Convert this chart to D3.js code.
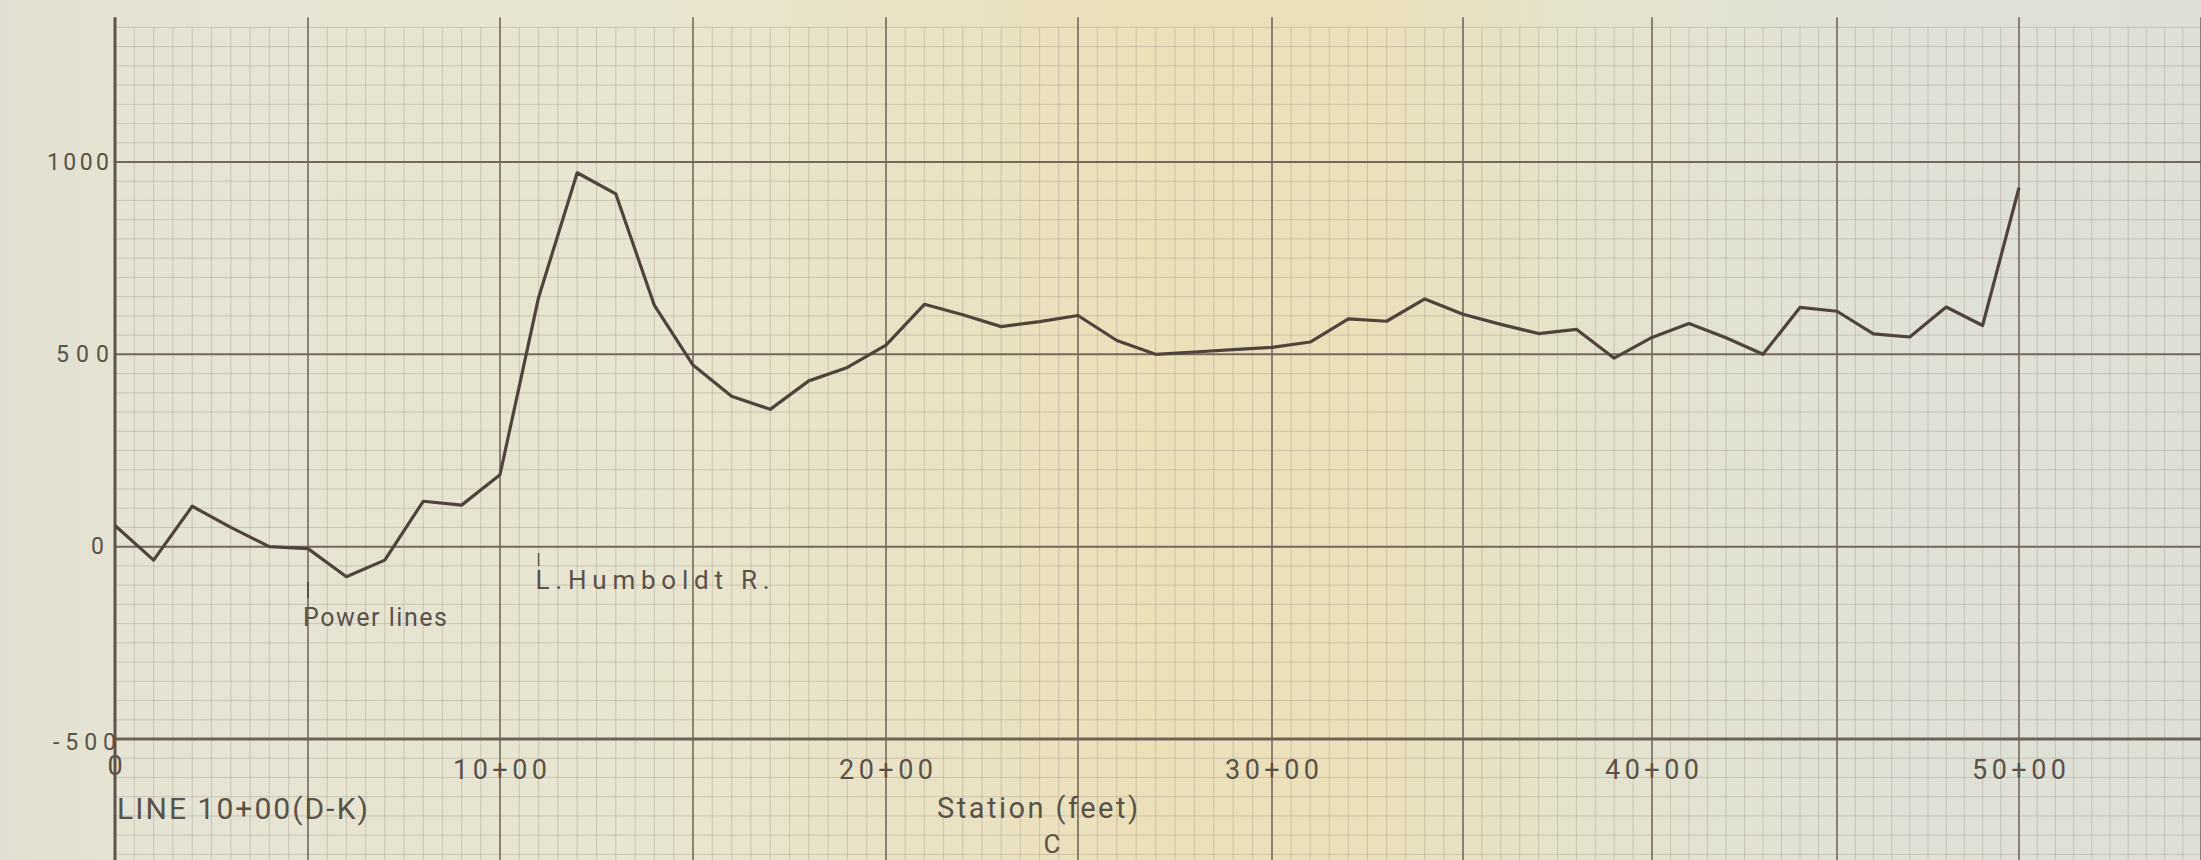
<!DOCTYPE html>
<html>
<head>
<meta charset="utf-8">
<script src="https://cdn.jsdelivr.net/npm/d3@7"></script>
<style>
html,body{margin:0;padding:0;background:#e6e4d2;}
svg{display:block;}
text{font-family:"Roboto","DejaVu Sans",sans-serif;font-weight:400;fill:#5a5149;}
</style>
</head>
<body>
<svg id="chart" width="2201" height="860"></svg>
<script>
// ---- data ----
const stations = [0,1,2,3,4,5,6,7,8,9,10,11,12,13,14,15,16,17,18,19,20,21,22,23,24,25,26,27,28,29,30,31,32,33,34,35,36,37,38,39,40,41,42,43,44,45,46,47,48,49,50];
const values   = [55,-35,105,50,0,-5,-78,-35,118,108,187,648,972,917,627,472,391,357,431,466,524,630,603,572,585,601,536,500,506,512,518,532,592,586,644,604,578,554,565,490,544,580,543,500,622,612,553,545,623,575,933];
const xTickValues = [0,10,20,30,40,50];
const xTickLabels = ["0","10+00","20+00","30+00","40+00","50+00"];
const yTickValues = [1000,500,0,-500];
const yTickLabels = ["1000","500","0","-500"];
const annotations = [
  {station:5,  text:"Power lines"},
  {station:11, text:"L.Humboldt R."}
];
const titleText = "LINE 10+00(D-K)";
const xAxisTitle = "Station (feet)";
const footerText = "C";

// ---- layout ----
const W = 2201, H = 860;
const svg = d3.select("#chart");

// x scale follows the printed (slightly distorted) paper: a major line every 5 stations
const x = d3.scaleLinear()
  .domain([0,5,10,15,20,25,30,35,40,45,50,55])
  .range([115,308,500,693,886,1078,1272,1463,1652,1837,2019,2201]);
const y = d3.scaleLinear().domain([-500,1000]).range([739,162]);

// background paper with colour shift
const defs = svg.append("defs");
const grad = defs.append("linearGradient").attr("id","paper").attr("x1","0").attr("x2","1").attr("y1","0").attr("y2","0");
[[0,"#e0dfd1"],[0.05,"#e5e4d3"],[0.3,"#e8e5d0"],[0.42,"#eae2c4"],[0.52,"#ece0b9"],[0.62,"#ebe0ba"],[0.72,"#e5e3cd"],[0.85,"#e0e2d6"],[1,"#dee0d6"]]
  .forEach(([o,c])=>grad.append("stop").attr("offset",o).attr("stop-color",c));
svg.append("rect").attr("width",W).attr("height",H).attr("fill","url(#paper)");

// grid
const gridTop = y(1350);
const g = svg.append("g");
const xMinor = d3.range(0, 55.01, 0.5);
const yMinor = d3.range(-800, 1351, 50);
g.selectAll("line.vmin").data(xMinor.filter(d=>d%5!==0)).join("line")
  .attr("x1",d=>x(d)).attr("x2",d=>x(d)).attr("y1",gridTop).attr("y2",H)
  .attr("stroke","#9d9080").attr("stroke-width",1).attr("stroke-opacity",0.38);
g.selectAll("line.hmin").data(yMinor.filter(d=>d%500!==0)).join("line")
  .attr("x1",x(0)).attr("x2",W).attr("y1",d=>y(d)).attr("y2",d=>y(d))
  .attr("stroke","#9d9080").attr("stroke-width",1).attr("stroke-opacity",0.38);
g.selectAll("line.vmaj").data(xMinor.filter(d=>d%5===0 && d>0)).join("line")
  .attr("x1",d=>x(d)).attr("x2",d=>x(d)).attr("y1",gridTop-10).attr("y2",H)
  .attr("stroke","#75675c").attr("stroke-width",1.6);
g.selectAll("line.hmaj").data([1000,500,0]).join("line")
  .attr("x1",x(0)).attr("x2",W).attr("y1",d=>y(d)).attr("y2",d=>y(d))
  .attr("stroke","#75675c").attr("stroke-width",2);
// axes
g.append("line").attr("x1",x(0)).attr("x2",W).attr("y1",y(-500)).attr("y2",y(-500))
  .attr("stroke","#6e6258").attr("stroke-width",3);
g.append("line").attr("x1",x(0)).attr("x2",x(0)).attr("y1",gridTop-10).attr("y2",H)
  .attr("stroke","#5f534a").attr("stroke-width",3);

// y tick labels
const ylab = svg.append("g");
const yLabelWidths = {"1000":62,"500":53,"0":17,"-500":63};
ylab.selectAll("text").data(yTickValues).join("text")
  .attr("x",d=> d===-500 ? x(0)+1 : (d===0 ? x(0)-11 : x(0)-6))
  .attr("y",d=>y(d)+ (d===-500?3:0))
  .attr("text-anchor","end")
  .attr("dominant-baseline","central")
  .attr("font-size",23)
  .attr("textLength",(d,i)=>yLabelWidths[yTickLabels[i]])
  .attr("lengthAdjust","spacing")
  .text((d,i)=>yTickLabels[i]);

// x tick labels
const xlab = svg.append("g");
xlab.selectAll("text").data(xTickValues).join("text")
  .attr("x",d=>x(d))
  .attr("y",d=> d===0 ? 766 : 770)
  .attr("text-anchor","middle")
  .attr("dominant-baseline","central")
  .attr("font-size",27)
  .attr("textLength",(d,i)=> i===0 ? 16 : 94)
  .attr("lengthAdjust","spacing")
  .text((d,i)=>xTickLabels[i]);

// titles
svg.append("text").attr("x",x(0)+2).attr("y",808).attr("dominant-baseline","central")
  .attr("font-size",30).attr("textLength",251).attr("lengthAdjust","spacing").text(titleText);
svg.append("text").attr("x",937).attr("y",808).attr("dominant-baseline","central")
  .attr("font-size",29).attr("textLength",201).attr("lengthAdjust","spacing").text(xAxisTitle);
svg.append("text").attr("x",1052).attr("y",844).attr("text-anchor","middle").attr("dominant-baseline","central")
  .attr("font-size",26).text(footerText);

// annotations with small tick marks
const ann = svg.append("g");
ann.append("line").attr("x1",x(annotations[0].station)).attr("x2",x(annotations[0].station))
  .attr("y1",582).attr("y2",598).attr("stroke","#5a514a").attr("stroke-width",2);
ann.append("text").attr("x",x(annotations[0].station)-5).attr("y",617).attr("dominant-baseline","central")
  .attr("font-size",25).attr("textLength",144).attr("lengthAdjust","spacing").text(annotations[0].text);
ann.append("line").attr("x1",x(annotations[1].station)).attr("x2",x(annotations[1].station))
  .attr("y1",553).attr("y2",566).attr("stroke","#5a514a").attr("stroke-width",1.5);
ann.append("text").attr("x",x(annotations[1].station)-3).attr("y",580).attr("dominant-baseline","central")
  .attr("font-size",26).attr("textLength",234).attr("lengthAdjust","spacing").text(annotations[1].text);

// data line
const line = d3.line().x((d,i)=>x(stations[i])).y(d=>y(d));
svg.append("path").datum(values)
  .attr("d",line)
  .attr("fill","none")
  .attr("stroke","#4f433c")
  .attr("stroke-width",3.2)
  .attr("stroke-linejoin","round");
</script>
</body>
</html>
